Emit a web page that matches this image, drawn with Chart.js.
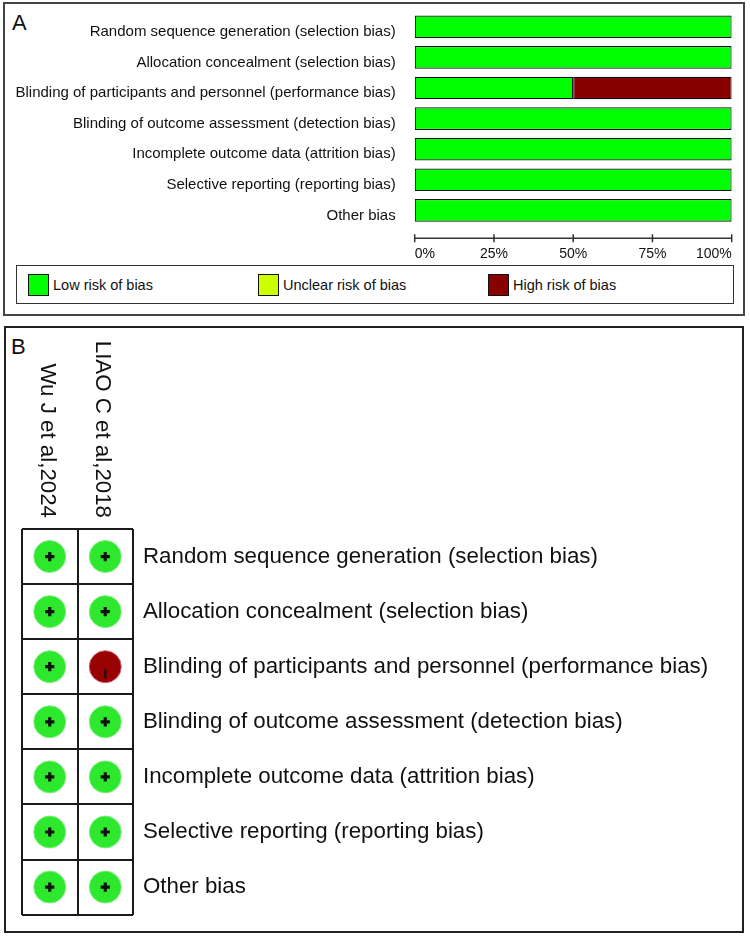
<!DOCTYPE html>
<html>
<head>
<meta charset="utf-8">
<script src="https://cdn.jsdelivr.net/npm/chart.js@4"></script>
<style>
html,body{margin:0;padding:0;background:#fff;}
body{width:750px;height:938px;position:relative;overflow:hidden;font-family:"Liberation Sans",Arial,sans-serif;color:#111;}
.panel{position:absolute;box-sizing:border-box;border:2px solid #444;}
#panelA{left:3px;top:2px;width:742px;height:314px;}
#panelB{left:4px;top:326px;width:740px;height:607px;border-color:#222;}
.tag{position:absolute;font-size:22px;line-height:22px;color:#111;}
canvas{position:absolute;left:0;}
#cA{top:0;}
#cB{top:320px;}
#legend{position:absolute;left:16px;top:265px;width:718px;height:39px;box-sizing:border-box;border:1.5px solid #333;}
.sw{position:absolute;top:273.5px;width:21px;height:22px;box-sizing:border-box;border:1.5px solid #111;}
.lt{position:absolute;top:277px;font-size:14.5px;line-height:17px;color:#111;}
</style>
</head>
<body>
<div id="panelA" class="panel"></div>
<div id="panelB" class="panel"></div>
<div class="tag" style="left:12px;top:12px;">A</div>
<div class="tag" style="left:11px;top:336px;">B</div>
<div id="legend"></div>
<div class="sw" style="left:28px;background:#00ff00;"></div>
<div class="lt" style="left:53px;">Low risk of bias</div>
<div class="sw" style="left:258px;background:#ccff00;"></div>
<div class="lt" style="left:283px;">Unclear risk of bias</div>
<div class="sw" style="left:488px;background:#880000;"></div>
<div class="lt" style="left:513px;">High risk of bias</div>
<canvas id="cA" width="750" height="320"></canvas>
<canvas id="cB" width="750" height="618"></canvas>
<script>
// ---- data ----
const domains = [
  'Random sequence generation (selection bias)',
  'Allocation concealment (selection bias)',
  'Blinding of participants and personnel (performance bias)',
  'Blinding of outcome assessment (detection bias)',
  'Incomplete outcome data (attrition bias)',
  'Selective reporting (reporting bias)',
  'Other bias'
];
const lowRisk = [100, 100, 50, 100, 100, 100, 100];
const unclearRisk = [0, 0, 0, 0, 0, 0, 0];
const highRisk = [0, 0, 50, 0, 0, 0, 0];
const percentTicks = [0, 25, 50, 75, 100];
const studies = ['Wu J et al,2024', 'LIAO C et al,2018'];
const wuJudgments = ['low', 'low', 'low', 'low', 'low', 'low', 'low'];
const liaoJudgments = ['low', 'low', 'high', 'low', 'low', 'low', 'low'];

const FONT = '"Liberation Sans", Arial, sans-serif';
Chart.defaults.font.family = FONT;
Chart.defaults.color = '#111';

// ---- panel A ----
const axisLine = {
  id: 'axisLine',
  afterDraw(chart) {
    const {ctx, chartArea} = chart;
    const x = chart.scales.x;
    const y = chartArea.bottom + 12.5;
    ctx.save();
    ctx.strokeStyle = '#333';
    ctx.lineWidth = 1.5;
    ctx.beginPath();
    ctx.moveTo(x.getPixelForValue(percentTicks[0]), y);
    ctx.lineTo(x.getPixelForValue(percentTicks[percentTicks.length - 1]), y);
    x.ticks.forEach(t => {
      const px = x.getPixelForValue(t.value);
      ctx.moveTo(px, y - 4);
      ctx.lineTo(px, y + 4);
    });
    ctx.stroke();
    ctx.restore();
  }
};

new Chart(document.getElementById('cA'), {
  type: 'bar',
  data: {
    labels: domains,
    datasets: [
      {label: 'Low risk of bias', data: lowRisk, backgroundColor: '#00ff00'},
      {label: 'Unclear risk of bias', data: unclearRisk, backgroundColor: '#ccff00'},
      {label: 'High risk of bias', data: highRisk, backgroundColor: '#880000'}
    ]
  },
  options: {
    indexAxis: 'y',
    responsive: false,
    animation: false,
    events: [],
    layout: {padding: {top: 11.5, left: 0, right: 18.3, bottom: 0}},
    datasets: {bar: {borderColor: '#111', borderWidth: 1.2, borderSkipped: false, barPercentage: 0.74, categoryPercentage: 1}},
    plugins: {legend: {display: false}, tooltip: {enabled: false}},
    scales: {
      x: {
        stacked: true, min: 0, max: 100,
        afterBuildTicks: s => { s.ticks = percentTicks.map(v => ({value: v})); },
        ticks: {align: 'inner', padding: 20, font: {size: 14}, color: '#111', callback: v => v + '%'},
        grid: {display: false, drawTicks: false},
        border: {display: false},
        afterFit: s => { s.height = 94.3; s.paddingLeft = 0; s.paddingRight = 0; }
      },
      y: {
        stacked: true,
        ticks: {padding: 19, labelOffset: 5, font: {size: 15}, color: '#111'},
        grid: {display: false, drawTicks: false},
        border: {display: false},
        afterFit: s => { s.width = 414.7; s.paddingTop = 0; s.paddingBottom = 0; }
      }
    }
  },
  plugins: [axisLine]
});

// ---- panel B ----
const judgments = [wuJudgments, liaoJudgments];
const points = [];
studies.forEach((s, si) => {
  domains.forEach((d, di) => points.push({x: s, y: d, j: judgments[si][di]}));
});

const dashImg = document.createElement('canvas');
dashImg.width = 4; dashImg.height = 26;
(function () {
  const c = dashImg.getContext('2d');
  c.fillStyle = '#111';
  c.fillRect(1, 15.5, 2.2, 9);
})();

const headers = {
  id: 'headers',
  afterDraw(chart) {
    const {ctx, chartArea} = chart;
    const x = chart.scales.x;
    ctx.save();
    ctx.font = '22.3px ' + FONT;
    ctx.fillStyle = '#111';
    ctx.textAlign = 'right';
    ctx.textBaseline = 'middle';
    studies.forEach((s, i) => {
      ctx.save();
      ctx.translate(x.getPixelForValue(i) - 3, chartArea.top - 11);
      ctx.rotate(Math.PI / 2);
      ctx.fillText(s, 0, 0);
      ctx.restore();
    });
    ctx.restore();
  }
};

new Chart(document.getElementById('cB'), {
  type: 'scatter',
  data: {
    datasets: [
      {
        data: points,
        order: 0,
        pointStyle: points.map(p => p.j === 'low' ? 'cross' : dashImg),
        pointRadius: 4.6,
        borderColor: '#111',
        backgroundColor: '#111',
        borderWidth: 3.2
      },
      {
        data: points,
        order: 1,
        pointStyle: 'circle',
        pointRadius: 16,
        backgroundColor: points.map(p => p.j === 'low' ? '#2ee82e' : '#990000'),
        borderColor: points.map(p => p.j === 'low' ? '#80ee80' : '#d0607a'),
        borderWidth: 1
      }
    ]
  },
  options: {
    responsive: false,
    animation: false,
    events: [],
    layout: {padding: {top: 209, left: 22, right: 0, bottom: 22}},
    plugins: {legend: {display: false}, tooltip: {enabled: false}},
    scales: {
      x: {
        type: 'category', labels: studies, offset: true, position: 'bottom',
        grid: {offset: true, color: '#1a1a1a', lineWidth: 2, drawTicks: false},
        border: {display: false},
        ticks: {display: false},
        afterFit: s => { s.height = 0; }
      },
      y: {
        type: 'category', labels: domains, offset: true, position: 'right',
        grid: {offset: true, color: '#1a1a1a', lineWidth: 2, drawTicks: false},
        border: {display: false},
        ticks: {padding: 10, font: {size: 22.3}, color: '#111'},
        afterFit: s => { s.width = 617; }
      }
    }
  },
  plugins: [headers]
});
</script>
</body>
</html>
